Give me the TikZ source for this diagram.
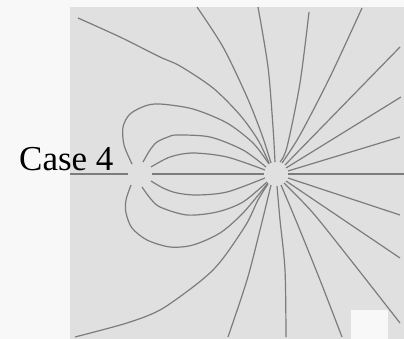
\documentclass[tikz,border=0pt]{standalone}
\usepackage{fontspec}
\setmainfont{Liberation Serif}
\usetikzlibrary{positioning}

\definecolor{pagebg}{HTML}{F8F8F8}
\definecolor{panelbg}{HTML}{E0E0E0}
\definecolor{linegray}{HTML}{7C7C7C}

\begin{document}
\begin{tikzpicture}[
x=1pt,y=-1pt,
fieldline/.style={
draw=linegray,
line width=1.2pt
},
casetext/.style={
anchor=base west,
inner sep=0pt,
font=\rmfamily\fontsize{35}{40}\selectfont
}
]

\useasboundingbox (0,0) rectangle (404,339);
\fill[pagebg] (0,0) rectangle (404,339);
\fill[panelbg] (70,7) rectangle (404,339);
\fill[pagebg] (351,310) rectangle (388,339);

\coordinate (neg) at (140,174);
\coordinate (pos) at (276,174);

% lines leaving the right charge
\draw[fieldline] plot[smooth] coordinates {(78,18) (120,37) (160,57) (180,66) (213,88) (240,115) (258,140) (269,163)};
\draw[fieldline] plot[smooth] coordinates {(197,7) (223,47) (247,97) (262,135) (271,163)};
\draw[fieldline] plot[smooth] coordinates {(258,7) (268,67) (273,127) (275,162)};
\draw[fieldline] plot[smooth] coordinates {(309,12) (300,83) (287,147) (280,162)};
\draw[fieldline] plot[smooth] coordinates {(362,8) (330,77) (300,135) (282,163)};
\draw[fieldline] (400,47) -- (285,165);
\draw[fieldline] (401,97) -- (286,168);
\draw[fieldline] (400,137) -- (288,171);
\draw[fieldline] (288,174) -- (404,174);
\draw[fieldline] (400,215) -- (288,178);
\draw[fieldline] (400,258) -- (286,181);
\draw[fieldline] plot[smooth] coordinates {(400,323) (353,263) (313,213) (284,183)};
\draw[fieldline] plot[smooth] coordinates {(342,337) (320,280) (297,223) (281,185)};
\draw[fieldline] plot[smooth] coordinates {(286,337) (285,270) (280,220) (277,186)};
\draw[fieldline] plot[smooth] coordinates {(228,337) (247,280) (260,230) (271,185)};
\draw[fieldline] plot[smooth] coordinates {(75,337) (127,323) (160,310) (193,287) (213,270) (227,253) (247,223) (258,200) (268,184)};

% loops between the two charges
\draw[fieldline] plot[smooth] coordinates {(132,164) (124,145) (123,127) (130,114) (145,106) (160,104) (193,109) (227,123) (253,143) (269,164)};
\draw[fieldline] plot[smooth] coordinates {(143,162) (150,150) (157,142) (168,137) (177,135) (210,137) (243,150) (266,167)};
\draw[fieldline] plot[smooth] coordinates {(151,167) (170,157) (193,153) (227,157) (265,170)};
\draw[fieldline] (152,174) -- (264,174);
\draw[fieldline] plot[smooth] coordinates {(151,181) (163,188) (177,193) (197,195) (227,192) (265,178)};
\draw[fieldline] plot[smooth] coordinates {(142,187) (150,198) (160,207) (187,215) (217,212) (243,202) (267,182)};
\draw[fieldline] plot[smooth] coordinates {(131,185) (126,200) (126,213) (132,228) (147,240) (170,247) (193,245) (220,233) (243,213) (268,183)};
\draw[fieldline] (70,174) -- (128,174);

\node[casetext] (caselabel) at (19,171) {Case 4};

\end{tikzpicture}
\end{document}
